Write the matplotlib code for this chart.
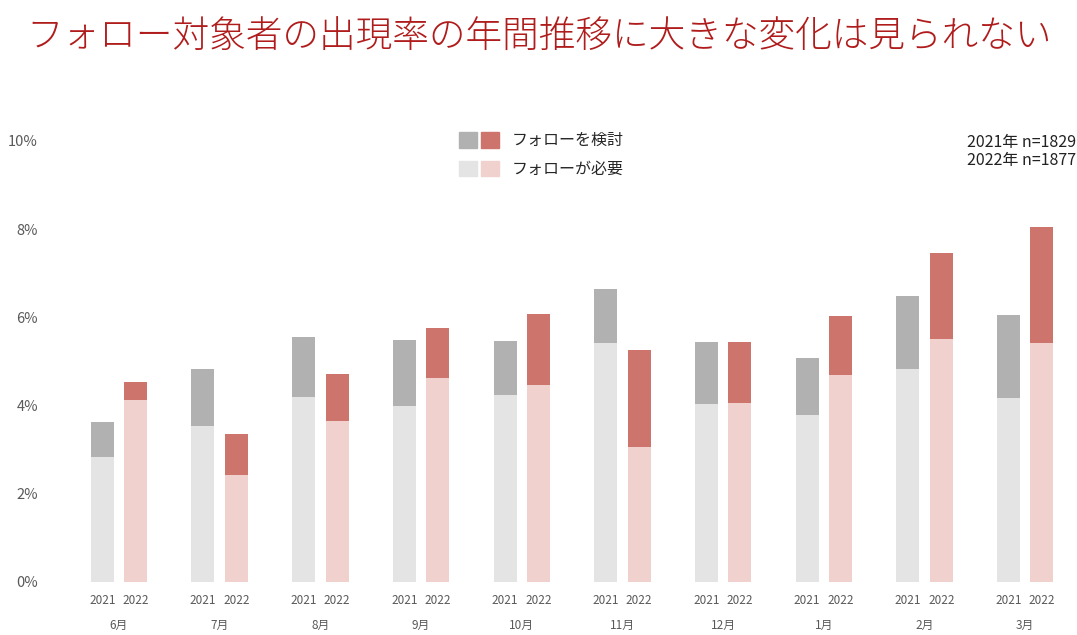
import matplotlib
matplotlib.use("Agg")
import matplotlib.pyplot as plt
from matplotlib.patches import Patch
from matplotlib.legend_handler import HandlerTuple
from matplotlib.transforms import blended_transform_factory
import numpy as np

plt.rcParams['font.family'] = ['Noto Sans CJK JP', 'DejaVu Sans']

# data (percent)
months = ['6月', '7月', '8月', '9月', '10月', '11月', '12月', '1月', '2月', '3月']
years = ['2021', '2022']
need_2021 = [2.83, 3.54, 4.20, 3.98, 4.23, 5.43, 4.03, 3.79, 4.84, 4.18]
total_2021 = [3.63, 4.83, 5.56, 5.49, 5.46, 6.64, 5.44, 5.08, 6.49, 6.05]
need_2022 = [4.12, 2.43, 3.66, 4.62, 4.47, 3.05, 4.06, 4.69, 5.52, 5.43]
total_2022 = [4.53, 3.36, 4.71, 5.75, 6.07, 5.25, 5.44, 6.02, 7.45, 8.05]
yticks = [0, 2, 4, 6, 8, 10]
notes = ['2021年 n=1829', '2022年 n=1877']

consider_2021 = np.array(total_2021) - np.array(need_2021)
consider_2022 = np.array(total_2022) - np.array(need_2022)

c_light_gray = '#e4e4e4'
c_dark_gray = '#b1b1b1'
c_pink = '#f0d1ce'
c_red = '#cd756c'
c_text = '#595959'

fig = plt.figure(figsize=(10.77, 6.35), dpi=100)
ax = fig.add_axes([0.0637, 0.0835, 0.935, 0.6945])

x = np.arange(len(months))
off = 0.166
w = 0.228

ax.bar(x - off, need_2021, w, color=c_light_gray)
ax.bar(x - off, consider_2021, w, bottom=need_2021, color=c_dark_gray)
ax.bar(x + off, need_2022, w, color=c_pink)
ax.bar(x + off, consider_2022, w, bottom=need_2022, color=c_red)

ax.set_xlim(-0.5, len(months) - 0.5)
ax.set_ylim(0, 10)
ax.set_yticks(yticks)
ax.set_yticklabels([f'{v}%' for v in yticks])

pos = np.concatenate([x - off, x + off])
labs = [years[0]] * len(months) + [years[1]] * len(months)
ax.set_xticks(pos)
ax.set_xticklabels(labs)

ax.tick_params(axis='y', length=0, pad=22, labelsize=10.5, labelcolor=c_text)
ax.tick_params(axis='x', length=0, pad=9, labelsize=8.5, labelcolor=c_text)
for s in ax.spines.values():
    s.set_visible(False)

trans = blended_transform_factory(ax.transData, fig.transFigure)
for i, m in enumerate(months):
    ax.text(i, 1 - 625 / 635, m, transform=trans, ha='center', va='center',
            fontsize=8.5, color=c_text)

# legend
h1 = (Patch(color=c_dark_gray), Patch(color=c_red))
h2 = (Patch(color=c_light_gray), Patch(color=c_pink))
fig.legend([h1, h2], ['フォローを検討', 'フォローが必要'],
           handler_map={tuple: HandlerTuple(ndivide=None, pad=0.3)},
           loc='upper left', bbox_to_anchor=(459 / 1077, 1 - 132 / 635),
           frameon=False, fontsize=11.5, handlelength=2.5, handleheight=1.15,
           handletextpad=0.8, labelspacing=0.7, borderpad=0, borderaxespad=0,
           labelcolor='#262626')

fig.text(1076 / 1077, 1 - 142 / 635, notes[0], ha='right', va='center',
         fontsize=11.5, color='#222222')
fig.text(1076 / 1077, 1 - 160 / 635, notes[1], ha='right', va='center',
         fontsize=11.5, color='#222222')

fig.text(26 / 1077, 1 - 38 / 635, 'フォロー対象者の出現率の年間推移に大きな変化は見られない',
         ha='left', va='center', fontsize=26.4, color='#b01c1c', fontweight='light')

fig.savefig('out.png', dpi=100)
